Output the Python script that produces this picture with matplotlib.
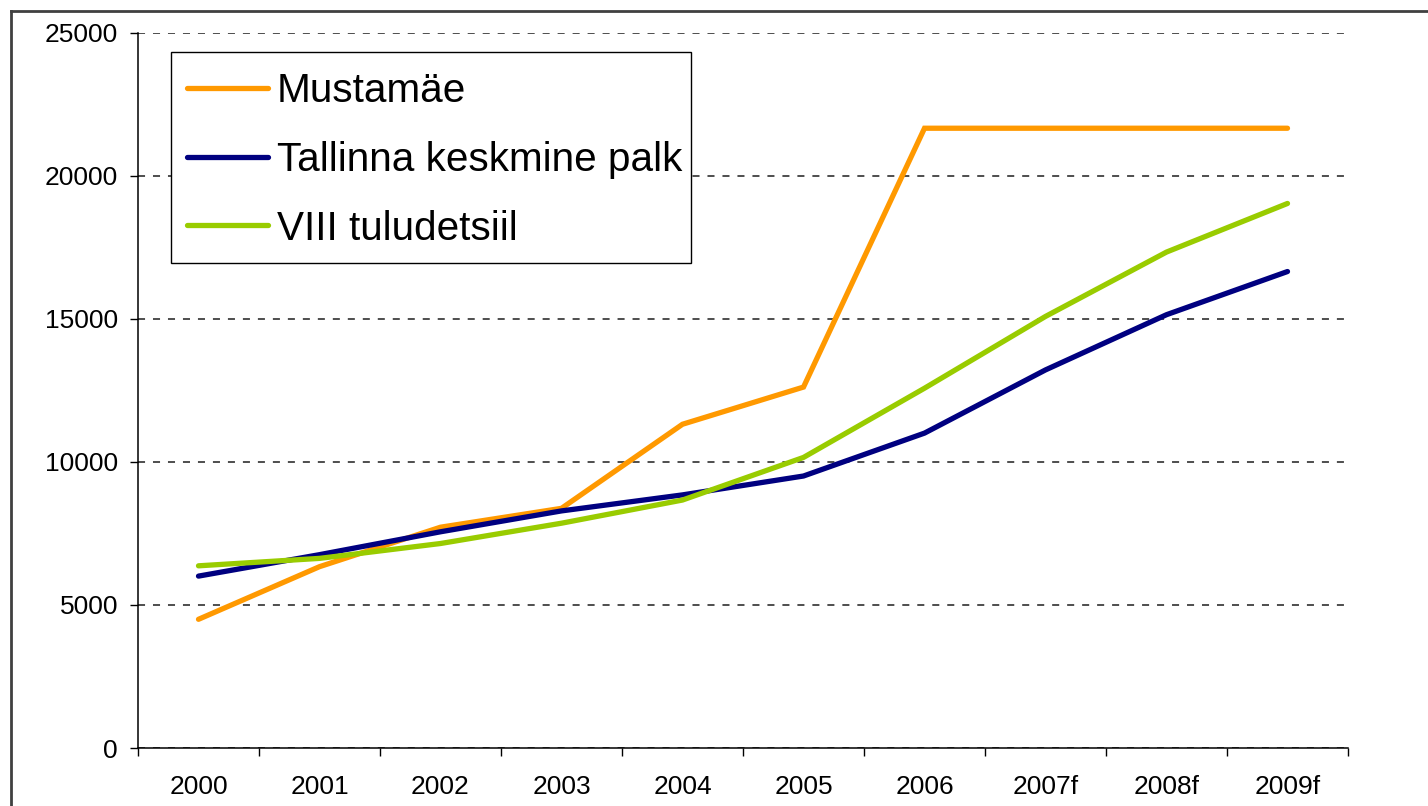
import matplotlib
matplotlib.use("Agg")
import matplotlib.pyplot as plt
from matplotlib.lines import Line2D
from matplotlib.patches import Rectangle

years = ["2000", "2001", "2002", "2003", "2004", "2005", "2006", "2007f", "2008f", "2009f"]
mustamae = [4500, 6340, 7720, 8380, 11320, 12620, 21670, 21670, 21670, 21670]
tallinna = [6010, 6760, 7560, 8290, 8850, 9510, 11010, 13220, 15150, 16660]
viii = [6370, 6630, 7150, 7860, 8670, 10160, 12580, 15090, 17340, 19040]

series = [
    ("Mustamäe", mustamae, "#FF9900"),
    ("Tallinna keskmine palk", tallinna, "#000080"),
    ("VIII tuludetsiil", viii, "#99CC00"),
]

plt.rcParams['font.family'] = ['Liberation Sans', 'DejaVu Sans']

W, H = 1428, 806
PX = 0.72  # points per pixel at dpi 100
fig = plt.figure(figsize=(W / 100, H / 100), dpi=100)
fig.patch.set_facecolor("white")
ax = fig.add_axes([138 / W, 1 - 748 / H, (1348 - 138) / W, (748 - 33) / H])

x = list(range(len(years)))
for name, vals, col in series:
    ax.plot(x, vals, color=col, lw=3.8, solid_capstyle="round", solid_joinstyle="miter", label=name, zorder=3)

ax.set_xlim(-0.5, len(years) - 0.5)
ax.set_ylim(0, 25000)
ax.set_yticks(range(0, 25001, 5000))
ax.set_yticklabels([str(v) for v in range(0, 25001, 5000)], fontsize=19)

ax.set_xticks([i - 0.5 for i in range(len(years) + 1)])
ax.set_xticklabels([])
ax.set_xticks(x, minor=True)
ax.set_xticklabels(years, minor=True, fontsize=19)
ax.tick_params(axis="x", which="major", direction="out", length=8 * PX, width=1, color="black")
ax.tick_params(axis="x", which="minor", length=0, pad=27 * PX)
ax.tick_params(axis="y", direction="out", length=8 * PX, width=1, pad=12 * PX, color="black")

for s in ["top", "right"]:
    ax.spines[s].set_visible(False)
for s in ["left", "bottom"]:
    ax.spines[s].set_linewidth(1.1)
    ax.spines[s].set_color("black")

ax.yaxis.grid(True, linestyle=(0, (3.9, 4.4)), color="#404040", linewidth=1.3)
ax.set_axisbelow(True)

# legend frame (Excel-style box)
ax.add_patch(Rectangle((171 / W, 1 - 263 / H), (691 - 171) / W, (263 - 52) / H,
                       transform=fig.transFigure, facecolor="white",
                       edgecolor="black", lw=1.0, zorder=4, clip_on=False))
leg = ax.legend(loc="upper left", bbox_to_anchor=(187 / W, 1 - 72 / H),
                bbox_transform=fig.transFigure, fontsize=29.2, frameon=False,
                handlelength=2.0, handletextpad=0.22, labelspacing=0.76,
                borderpad=0, borderaxespad=0)
leg.set_zorder(5)
for h in leg.get_lines():
    h.set_linewidth(3.8)

# outer chart border (left and top visible)
fig.add_artist(Line2D([10.5 / W, 10.5 / W], [0, 1 - 11 / H], transform=fig.transFigure,
                      color="#404040", lw=2))
fig.add_artist(Line2D([10.5 / W, 1], [1 - 11 / H, 1 - 11 / H], transform=fig.transFigure,
                      color="#404040", lw=2))

fig.savefig("out.png", dpi=100, facecolor="white")
